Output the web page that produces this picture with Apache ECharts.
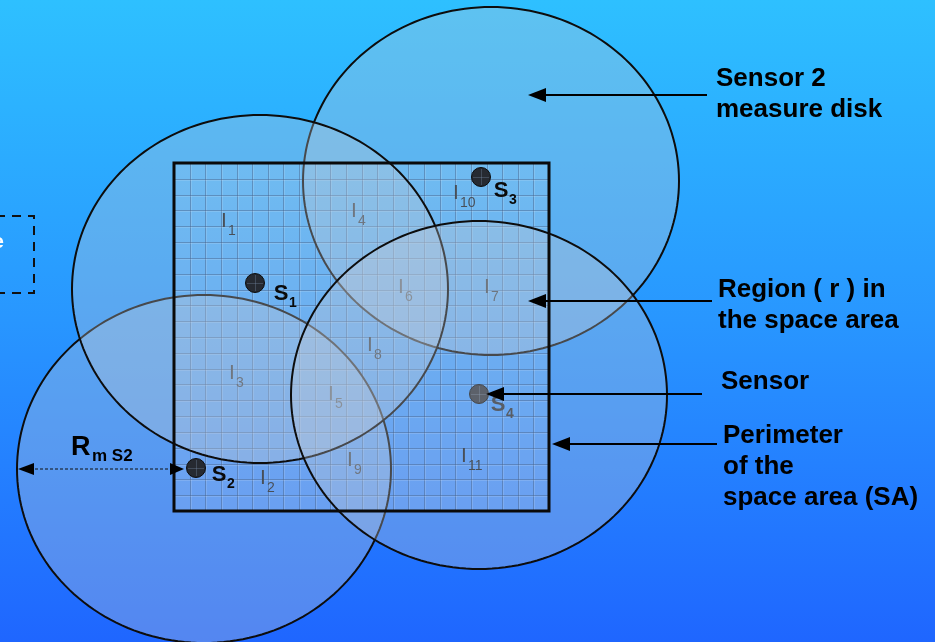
<!DOCTYPE html>
<html><head><meta charset="utf-8">
<script src="https://cdn.jsdelivr.net/npm/echarts@6/dist/echarts.min.js"></script>
<style>html,body{margin:0;padding:0;overflow:hidden;} #c{width:935px;height:642px;}</style>
</head><body><div id="c"></div>
<script>
// ---- diagram plane (units) ----
const planeX = [0, 935];
const planeY = [0, 642];
// ---- space area (SA) ----
const areaX = [174, 549];
const areaY = [163, 511];
const areaCols = 24;
const areaRows = 22;
// ---- sensors ----
const sensorNames = ['1', '2', '3', '4'];
const sensorX = [255, 196, 481, 479];
const sensorY = [283, 468, 177, 394];
const sensorLabelX = [281, 219, 501, 498];
const sensorLabelY = [294, 475, 191, 405];
// ---- measure disks (in drawing order) ----
const diskNames = ['S3', 'S2', 'S1', 'S4'];
const diskCX = [491, 204, 260, 479];
const diskCY = [181, 469, 289, 395];
const diskRX = [188, 187, 188, 188];
const diskRY = [174, 174, 174, 174];
// ---- regions I_k ----
const regionNames = ['1', '4', '10', '6', '7', '8', '3', '5', '9', '11', '2'];
const regionX = [224, 354, 456, 401, 487, 370, 232, 331, 350, 464, 263];
const regionY = [221, 211, 193, 287, 287, 345, 373, 394, 460, 456, 478];
// ---- annotations ----
const noteLines = [['Sensor 2', 'measure disk'], ['Region ( r ) in', 'the space area'], ['Sensor'], ['Perimeter', 'of the', 'space area (SA)']];
const noteX = [716, 718, 721, 723];
const noteY = [79, 290, 382, 436];
const arrowFromX = [707, 712, 702, 717];
const arrowToX = [528, 528, 486, 552];
const arrowY = [95, 301, 394, 444];
// ---- radius marker ----
const radiusMain = 'R';
const radiusSub = 'm S2';
const radiusLabelX = 71;
const radiusLabelY = 448;
const radiusFromX = 18;
const radiusToX = 184;
const radiusY = 469;
// ---- cut-off box on the left ----
const boxX = [-20, 34];
const boxY = [216, 293];

const FONT = '"Liberation Sans", Arial, Helvetica, sans-serif';
const chart = echarts.init(document.getElementById('c'), null, {renderer: 'canvas'});

function arrowHead(tip, dir, len, half) {
  return [[tip[0], tip[1]], [tip[0] - dir * len, tip[1] - half], [tip[0] - dir * len, tip[1] + half]];
}

function renderArea(params, api) {
  const p0 = api.coord([areaX[0], areaY[0]]);
  const p1 = api.coord([areaX[1], areaY[1]]);
  const w = p1[0] - p0[0], h = p1[1] - p0[1];
  const ch = [{type: 'rect', shape: {x: p0[0], y: p0[1], width: w, height: h}, style: {fill: 'rgba(215,235,255,0.16)'}}];
  for (let i = 1; i < areaCols; i++) {
    const x = Math.round(p0[0] + w * i / areaCols) + 0.5;
    ch.push({type: 'line', shape: {x1: x, y1: p0[1], x2: x, y2: p1[1]}, style: {stroke: 'rgba(20,55,110,0.5)', lineWidth: 1}});
    ch.push({type: 'line', shape: {x1: x + 1, y1: p0[1], x2: x + 1, y2: p1[1]}, style: {stroke: 'rgba(255,255,255,0.16)', lineWidth: 1}});
  }
  for (let j = 1; j < areaRows; j++) {
    const y = Math.round(p0[1] + h * j / areaRows) + 0.5;
    ch.push({type: 'line', shape: {x1: p0[0], y1: y, x2: p1[0], y2: y}, style: {stroke: 'rgba(20,55,110,0.5)', lineWidth: 1}});
    ch.push({type: 'line', shape: {x1: p0[0], y1: y + 1, x2: p1[0], y2: y + 1}, style: {stroke: 'rgba(255,255,255,0.16)', lineWidth: 1}});
  }
  return {type: 'group', children: ch};
}

function renderBorder(params, api) {
  const p0 = api.coord([areaX[0], areaY[0]]);
  const p1 = api.coord([areaX[1], areaY[1]]);
  return {type: 'rect', shape: {x: p0[0], y: p0[1], width: p1[0] - p0[0], height: p1[1] - p0[1]},
    style: {fill: null, stroke: '#0a0a0a', lineWidth: 3}};
}

function renderRegion(params, api) {
  const i = params.dataIndex;
  const p = api.coord([regionX[i], regionY[i]]);
  return {type: 'group', children: [
    {type: 'text', x: p[0], y: p[1], style: {text: 'I', fill: '#0e141c', font: '21px ' + FONT, align: 'center', verticalAlign: 'middle'}},
    {type: 'text', x: p[0] + 4, y: p[1] + 10, style: {text: regionNames[i], fill: '#0e141c', font: '14px ' + FONT, align: 'left', verticalAlign: 'middle'}}
  ]};
}

function sensorGraphic(i, api, dim) {
  const p = api.coord([sensorX[i], sensorY[i]]);
  const q = api.coord([sensorLabelX[i], sensorLabelY[i]]);
  const col = dim ? '#262a31' : '#0a0a0a';
  return {type: 'group', children: [
    {type: 'circle', shape: {cx: p[0], cy: p[1], r: 9.5}, style: {fill: dim ? '#2c3038' : '#262a31', stroke: '#0c0c0c', lineWidth: 1}},
    {type: 'line', shape: {x1: p[0] - 8, y1: p[1] + 0.5, x2: p[0] + 8, y2: p[1] + 0.5}, style: {stroke: 'rgba(120,140,170,0.35)', lineWidth: 1}},
    {type: 'line', shape: {x1: p[0] + 0.5, y1: p[1] - 8, x2: p[0] + 0.5, y2: p[1] + 8}, style: {stroke: 'rgba(120,140,170,0.35)', lineWidth: 1}},
    {type: 'text', x: q[0], y: q[1], style: {text: 'S', fill: col, font: 'bold 22px ' + FONT, align: 'center', verticalAlign: 'middle'}},
    {type: 'text', x: q[0] + 8, y: q[1] + 9, style: {text: sensorNames[i], fill: col, font: 'bold 14px ' + FONT, align: 'left', verticalAlign: 'middle'}}
  ]};
}

function renderDisk(params, api) {
  const i = params.dataIndex;
  const pts = [];
  for (let a = 0; a < 360; a += 2) {
    const t = a * Math.PI / 180;
    pts.push(api.coord([diskCX[i] + diskRX[i] * Math.cos(t), diskCY[i] + diskRY[i] * Math.sin(t)]));
  }
  return {type: 'polygon', shape: {points: pts}, style: {fill: 'rgba(196,202,212,0.32)', stroke: '#0d0d0d', lineWidth: 2}};
}

function renderNote(params, api) {
  const i = params.dataIndex;
  const ch = [];
  noteLines[i].forEach(function (line, k) {
    const p = api.coord([noteX[i], noteY[i] + k * 31]);
    ch.push({type: 'text', x: p[0], y: p[1], style: {text: line, fill: '#000', font: 'bold 26px ' + FONT, align: 'left', verticalAlign: 'middle'}});
  });
  const a = api.coord([arrowFromX[i], arrowY[i]]);
  const b = api.coord([arrowToX[i], arrowY[i]]);
  ch.push({type: 'line', shape: {x1: a[0], y1: a[1], x2: b[0] + 14, y2: b[1]}, style: {stroke: '#000', lineWidth: 2}});
  ch.push({type: 'polygon', shape: {points: arrowHead(b, -1, 18, 7)}, style: {fill: '#000'}});
  return {type: 'group', children: ch};
}

function renderRadius(params, api) {
  const a = api.coord([radiusFromX, radiusY]);
  const b = api.coord([radiusToX, radiusY]);
  const t = api.coord([radiusLabelX, radiusLabelY]);
  return {type: 'group', children: [
    {type: 'line', shape: {x1: a[0] + 12, y1: a[1], x2: b[0] - 12, y2: b[1]}, style: {stroke: '#111', lineWidth: 1, lineDash: [3, 2]}},
    {type: 'polygon', shape: {points: arrowHead(a, -1, 16, 6)}, style: {fill: '#000'}},
    {type: 'polygon', shape: {points: arrowHead(b, 1, 14, 6)}, style: {fill: '#000'}},
    {type: 'text', x: t[0], y: t[1], style: {text: radiusMain, fill: '#000', font: 'bold 27px ' + FONT, align: 'left', verticalAlign: 'middle'}},
    {type: 'text', x: t[0] + 21, y: t[1] + 8, style: {text: radiusSub, fill: '#000', font: 'bold 17px ' + FONT, align: 'left', verticalAlign: 'middle'}}
  ]};
}

function renderBox(params, api) {
  const p0 = api.coord([boxX[0], boxY[0]]);
  const p1 = api.coord([boxX[1], boxY[1]]);
  return {type: 'group', children: [
    {type: 'rect', shape: {x: p0[0], y: p0[1], width: p1[0] - p0[0], height: p1[1] - p0[1]}, style: {fill: null, stroke: '#111', lineWidth: 2, lineDash: [9, 7]}},
    {type: 'text', x: p0[0] + 24, y: p0[1] + 26, style: {text: 'e', fill: '#fff', font: 'bold 21px ' + FONT, align: 'right', verticalAlign: 'middle'}}
  ]};
}

const sensorsBelow = [3];
const sensorsAbove = [0, 1, 2];

chart.setOption({
  animation: false,
  backgroundColor: new echarts.graphic.LinearGradient(0, 0, 0, 1, [
    {offset: 0, color: '#2EC0FF'}, {offset: 0.5, color: '#2896FF'}, {offset: 1, color: '#1F66FF'}
  ]),
  grid: {left: 0, right: 0, top: 0, bottom: 0},
  xAxis: {type: 'value', min: planeX[0], max: planeX[1], show: false},
  yAxis: {type: 'value', min: planeY[0], max: planeY[1], inverse: true, show: false},
  series: [
    {type: 'custom', z: 1, renderItem: renderArea, data: [[areaX[0], areaY[0]]], silent: true},
    {type: 'custom', z: 2, renderItem: renderBox, data: [[boxX[1], boxY[0]]], silent: true},
    {type: 'custom', z: 3, renderItem: renderRegion, data: regionNames.map(function (n, i) { return [regionX[i], regionY[i]]; }), silent: true},
    {type: 'custom', z: 3, renderItem: function (params, api) { return sensorGraphic(sensorsBelow[params.dataIndex], api, true); },
      data: sensorsBelow.map(function (i) { return [sensorX[i], sensorY[i]]; }), silent: true},
    {type: 'custom', z: 4, renderItem: renderDisk, data: diskNames.map(function (n, i) { return [diskCX[i], diskCY[i]]; }), silent: true},
    {type: 'custom', z: 5, renderItem: renderBorder, data: [[areaX[0], areaY[0]]], silent: true},
    {type: 'custom', z: 5, renderItem: function (params, api) { return sensorGraphic(sensorsAbove[params.dataIndex], api, false); },
      data: sensorsAbove.map(function (i) { return [sensorX[i], sensorY[i]]; }), silent: true},
    {type: 'custom', z: 6, renderItem: renderNote, data: noteX.map(function (x, i) { return [x, noteY[i]]; }), silent: true},
    {type: 'custom', z: 6, renderItem: renderRadius, data: [[radiusFromX, radiusY]], silent: true}
  ]
});
</script>
</body></html>
